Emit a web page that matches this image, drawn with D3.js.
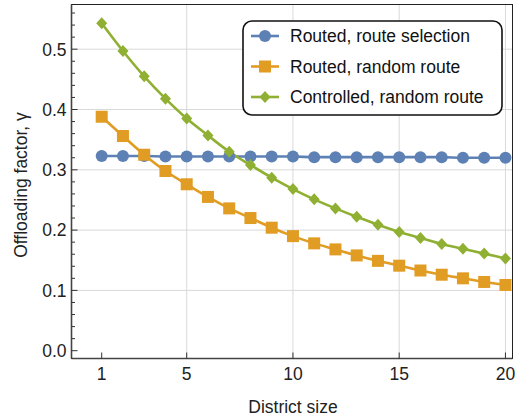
<!DOCTYPE html>
<html><head><meta charset="utf-8">
<script src="https://cdn.jsdelivr.net/npm/d3@7"></script>
<style>body{margin:0;background:#fff;}svg{display:block;font-family:"Liberation Sans",Arial,sans-serif;}</style>
</head><body><svg id="c" width="527" height="417"></svg>
<script>
const districtSizes = d3.range(1, 21);
const routeSelection = [0.323,0.323,0.323,0.322,0.322,0.322,0.322,0.322,0.322,0.322,0.321,0.321,0.321,0.321,0.321,0.321,0.321,0.320,0.320,0.320];
const routedRandom = [0.388,0.356,0.325,0.298,0.276,0.255,0.236,0.220,0.204,0.190,0.178,0.168,0.158,0.149,0.141,0.133,0.126,0.120,0.114,0.109];
const controlledRandom = [0.543,0.497,0.455,0.418,0.385,0.357,0.330,0.308,0.287,0.268,0.251,0.236,0.222,0.209,0.197,0.187,0.177,0.169,0.161,0.153];
const seriesNames = ["Routed, route selection","Routed, random route","Controlled, random route"];
const xTicks = [1,5,10,15,20];
const yTicks = [0.0,0.1,0.2,0.3,0.4,0.5];

const colors = ["#5E81B5","#E19C24","#8FB032"];
const series = [routeSelection, routedRandom, controlledRandom];
const FS = 17.5;

const svg = d3.select("#c");
const L=71.5, R=512.5, T=4.5, B=358.5;
const x = d3.scaleLinear().domain([1,5]).range([101.7,186.7]);
const y = d3.scaleLinear().domain([0,0.1]).range([350.7,290.4]);

// grid
svg.append("g").selectAll("line").data(yTicks.filter(d=>d>0)).join("line")
  .attr("x1",L).attr("x2",R).attr("y1",d=>y(d)).attr("y2",d=>y(d))
  .attr("stroke","#d9d9d9").attr("stroke-width",1);
svg.append("g").selectAll("line").data(xTicks.filter(d=>d>1)).join("line")
  .attr("x1",d=>x(d)).attr("x2",d=>x(d)).attr("y1",T).attr("y2",B)
  .attr("stroke","#d9d9d9").attr("stroke-width",1);

// frame
svg.append("rect").attr("x",L).attr("y",T).attr("width",R-L).attr("height",B-T)
  .attr("fill","none").attr("stroke","#222").attr("stroke-width",1);
svg.append("line").attr("x1",L).attr("x2",R).attr("y1",B).attr("y2",B).attr("stroke","#444").attr("stroke-width",1.6);
svg.append("line").attr("x1",L).attr("x2",L).attr("y1",T).attr("y2",B).attr("stroke","#444").attr("stroke-width",1.6);

// y ticks
const minorY = d3.range(0,0.57,0.02);
svg.append("g").selectAll("line").data(minorY).join("line")
  .attr("x1",L).attr("x2",d=>L+(Math.abs(d*10-Math.round(d*10))<1e-6?6:3.5))
  .attr("y1",d=>y(d)).attr("y2",d=>y(d)).attr("stroke","#333").attr("stroke-width",1);
svg.append("g").selectAll("text").data(yTicks).join("text")
  .attr("x",L-5).attr("y",d=>y(d)).attr("dy","0.36em").attr("text-anchor","end")
  .attr("font-size",FS).attr("fill","#222").text(d=>d3.format(".1f")(d));
// x ticks
svg.append("g").selectAll("line").data(xTicks).join("line")
  .attr("x1",d=>x(d)).attr("x2",d=>x(d)).attr("y1",B).attr("y2",B-6)
  .attr("stroke","#333").attr("stroke-width",1);
svg.append("g").selectAll("text").data(xTicks).join("text")
  .attr("x",d=>x(d)).attr("y",380).attr("text-anchor","middle")
  .attr("font-size",FS).attr("fill","#222").text(d=>d);

// labels
svg.append("text").attr("x",293).attr("y",413).attr("text-anchor","middle")
  .attr("font-size",FS).attr("fill","#222").text("District size");
svg.append("text").attr("transform",`translate(27,185) rotate(-90)`).attr("text-anchor","middle")
  .attr("font-size",FS).attr("fill","#222").text("Offloading factor, γ");

// symbols
function marker(g, i, cx, cy){
  if(i===0) g.append("circle").attr("cx",cx).attr("cy",cy).attr("r",6).attr("fill",colors[0]);
  else if(i===1) g.append("rect").attr("x",cx-6).attr("y",cy-6).attr("width",12).attr("height",12).attr("fill",colors[1]);
  else g.append("path").attr("d",`M${cx},${cy-6}L${cx+5.5},${cy}L${cx},${cy+6}L${cx-5.5},${cy}Z`).attr("fill",colors[2]);
}
const line = d3.line().x((d,i)=>x(districtSizes[i])).y(d=>y(d)).curve(d3.curveMonotoneX);
const plot = svg.append("g");
series.forEach((s,i)=>{
  plot.append("path").attr("d",line(s)).attr("fill","none").attr("stroke",colors[i]).attr("stroke-width",2.6);
});
series.forEach((s,i)=>{
  const g = plot.append("g");
  s.forEach((v,j)=>marker(g,i,x(districtSizes[j]),y(v)));
});

// legend
const lg = svg.append("g");
lg.append("rect").attr("x",243).attr("y",21).attr("width",259).attr("height",94).attr("rx",9)
  .attr("fill","#fff").attr("stroke","#111").attr("stroke-width",1.6);
seriesNames.forEach((n,i)=>{
  const cy = 36 + i*30.5;
  lg.append("line").attr("x1",251).attr("x2",279).attr("y1",cy).attr("y2",cy).attr("stroke",colors[i]).attr("stroke-width",2.6);
  marker(lg,i,265,cy);
  lg.append("text").attr("x",290).attr("y",cy).attr("dy","0.36em").attr("font-size",FS).attr("fill","#111").text(n);
});
</script></body></html>
